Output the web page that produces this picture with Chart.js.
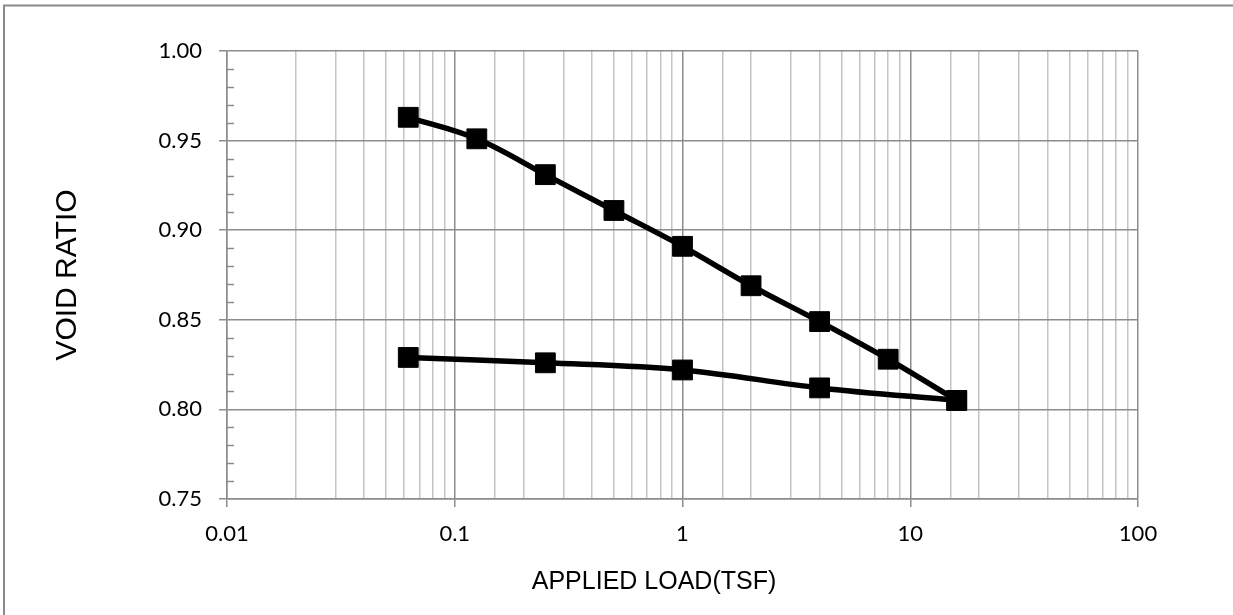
<!DOCTYPE html>
<html>
<head>
<meta charset="utf-8">
<script src="https://cdn.jsdelivr.net/npm/chart.js@4.4.1/dist/chart.umd.min.js"></script>
<style>
html,body{margin:0;padding:0;background:#fff;}
#wrap{position:relative;width:1233px;height:615px;}
</style>
</head>
<body>
<div id="wrap"><canvas id="c" width="1233" height="615"></canvas></div>
<script>
// ---- data ----
const loadX = [0.0625, 0.125, 0.25, 0.5, 1, 2, 4, 8, 16];
const loadY = [0.963, 0.951, 0.931, 0.911, 0.891, 0.869, 0.849, 0.828, 0.805];
const unloadX = [16, 4, 1, 0.25, 0.0625];
const unloadY = [0.805, 0.812, 0.822, 0.826, 0.829];
const xTickValues = [0.01, 0.1, 1, 10, 100];
const xTickLabels = ['0.01', '0.1', '1', '10', '100'];
const yTickValues = [0.75, 0.80, 0.85, 0.90, 0.95, 1.00];
const yTickLabels = ['0.75', '0.80', '0.85', '0.90', '0.95', '1.00'];
const xTitle = 'APPLIED LOAD(TSF)';
const yTitle = 'VOID RATIO';

const MAJOR = '#8c8c8c';
const MINOR = '#c4c4c4';

function isMajorX(v){ const l = Math.log10(v); return Math.abs(l - Math.round(l)) < 1e-6; }
function isMajorY(v){ return Math.abs(v*20 - Math.round(v*20)) < 1e-6; }
function labelFor(vals, labs, v){
  for (let i=0;i<vals.length;i++){ if (Math.abs(vals[i]-v) < 1e-6*Math.max(1,vals[i])) return labs[i]; }
  return '';
}

const decor = {
  id: 'decor',
  beforeDraw(chart){
    const ctx = chart.ctx;
    ctx.save();
    ctx.fillStyle = '#fff';
    ctx.fillRect(0,0,chart.width,chart.height);
    ctx.strokeStyle = '#8a8a8a';
    ctx.lineWidth = 2;
    ctx.beginPath();
    ctx.moveTo(4, 615);
    ctx.lineTo(4, 5.5);
    ctx.lineTo(1233, 5.5);
    ctx.stroke();
    ctx.restore();
  },
  beforeDatasetsDraw(chart){
    const ctx = chart.ctx;
    const ys = chart.scales.y;
    ctx.save();
    ctx.strokeStyle = MAJOR;
    ctx.lineWidth = 1.5;
    ys.ticks.forEach(t => {
      if (!isMajorY(t.value)) {
        const py = Math.round(ys.getPixelForValue(t.value)) + 0.5;
        ctx.beginPath();
        ctx.moveTo(ys.right, py);
        ctx.lineTo(ys.right + 7, py);
        ctx.stroke();
      }
    });
    ctx.restore();
  },
  afterDraw(chart){
    const ctx = chart.ctx;
    const a = chart.chartArea;
    ctx.save();
    ctx.fillStyle = '#000';
    ctx.textAlign = 'center';
    ctx.textBaseline = 'middle';
    ctx.font = '25px "Liberation Sans", Arial, sans-serif';
    ctx.fillText(xTitle, 654, 582);
    ctx.translate(68, (a.top + a.bottom)/2);
    ctx.rotate(-Math.PI/2);
    ctx.font = '30px "Liberation Sans", Arial, sans-serif';
    ctx.fillText(yTitle, 0, 0);
    ctx.restore();
  }
};

const lineStyle = {
  borderColor: '#000',
  backgroundColor: '#000',
  borderWidth: 5.5,
  pointStyle: 'rect',
  pointRadius: 14,
  pointHoverRadius: 14,
  pointBackgroundColor: '#000',
  pointBorderColor: '#000',
  pointBorderWidth: 1,
  tension: 0.35,
  fill: false
};

new Chart(document.getElementById('c'), {
  type: 'line',
  data: {
    datasets: [
      Object.assign({ label: 'Loading', data: loadX.map((x,i)=>({x, y: loadY[i]})) }, lineStyle),
      Object.assign({ label: 'Unloading', data: unloadX.map((x,i)=>({x, y: unloadY[i]})) }, lineStyle)
    ]
  },
  options: {
    responsive: false,
    animation: false,
    events: [],
    layout: { padding: { left: 0, top: 51, right: 95, bottom: 0 } },
    plugins: { legend: { display: false }, tooltip: { enabled: false } },
    scales: {
      x: {
        type: 'logarithmic',
        min: 0.01, max: 100,
        afterFit(s){ s.height = 116; },
        border: { color: MAJOR, width: 1.5 },
        grid: {
          color: c => (c.tick && isMajorX(c.tick.value)) ? MAJOR : MINOR,
          tickColor: c => (c.tick && isMajorX(c.tick.value)) ? MAJOR : 'rgba(0,0,0,0)',
          lineWidth: 1.5,
          tickLength: 8
        },
        ticks: {
          autoSkip: false, maxRotation: 0, minRotation: 0,
          padding: 14,
          color: '#000',
          font: { family: 'Lato, "Open Sans", sans-serif', size: 22 },
          callback: v => isMajorX(v) ? labelFor(xTickValues, xTickLabels, v) : ''
        },
        title: { display: false }
      },
      y: {
        type: 'linear',
        min: 0.75, max: 1.0,
        afterFit(s){ s.width = 227; },
        border: { color: MAJOR, width: 1.5 },
        grid: {
          color: c => (c.tick && isMajorY(c.tick.value)) ? MAJOR : 'rgba(0,0,0,0)',
          tickColor: c => (c.tick && isMajorY(c.tick.value)) ? MAJOR : 'rgba(0,0,0,0)',
          lineWidth: 1.5,
          tickLength: 8
        },
        ticks: {
          stepSize: 0.01,
          maxTicksLimit: 40,
          autoSkip: false,
          padding: 17,
          color: '#000',
          font: { family: 'Lato, "Open Sans", sans-serif', size: 22 },
          callback: v => isMajorY(v) ? labelFor(yTickValues, yTickLabels, v) : ''
        },
        title: { display: false }
      }
    }
  },
  plugins: [decor]
});
</script>
</body>
</html>
